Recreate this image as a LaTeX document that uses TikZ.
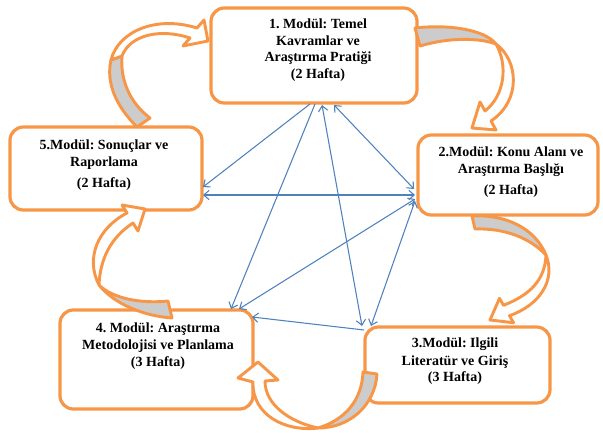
\documentclass[tikz,border=0pt]{standalone}
\usepackage{fontspec}
\setmainfont{Liberation Serif}
\frenchspacing
\usetikzlibrary{arrows.meta}
\definecolor{orng}{RGB}{247,150,70}
\definecolor{bluel}{RGB}{79,129,189}
\definecolor{grayf}{RGB}{204,204,204}
\begin{document}
\begin{tikzpicture}[x=0.75pt,y=-0.75pt,
  box/.style={draw=orng, line width=2.4pt, rounded corners=10pt, fill=white, inner sep=0pt, outer sep=0pt},
  lbl/.style={align=center, font=\bfseries\fontsize{10.5}{12.5}\selectfont, inner sep=0pt},
  link/.style={draw=bluel, line width=0.8pt},
  one/.style={-{Straight Barb[length=4pt,width=7pt]}},
  two/.style={{Straight Barb[length=4pt,width=7pt]}-{Straight Barb[length=4pt,width=7pt]}},
  band/.style={draw=orng, line width=2.2pt, line join=round, fill=white},
  under/.style={draw=orng, line width=2.2pt, line join=round, fill=grayf}]
\useasboundingbox (0,0) rectangle (603,432);

% boxes
\node[box, minimum width=154.5pt, minimum height=71.25pt] (b1) at (314,55.5) {};
\node[box, minimum width=135pt, minimum height=60pt] (b2) at (508,175) {};
\node[box, minimum width=138.75pt, minimum height=57pt] (b3) at (457.5,365) {};
\node[box, minimum width=144.75pt, minimum height=74.25pt] (b4) at (156.5,359.5) {};
\node[box, minimum width=144pt, minimum height=62.25pt] (b5) at (106,168.5) {};

% labels
\node[lbl] (t1) at (318,50) {1. Modül: Temel\\Kavramlar ve\\Araştırma Pratiği\\(2 Hafta)};
\node[lbl] (t2) at (511,172) {2.Modül: Konu Alanı ve\\Araştırma Başlığı\\[3pt](2 Hafta)};
\node[lbl] (t3) at (455,361) {3.Modül: Ilgili\\[1pt]Literatür ve Giriş\\(3 Hafta)};
\node[lbl] (t4) at (158,346) {4. Modül: Araştırma\\Metodolojisi ve Planlama\\(3 Hafta)};
\node[lbl] (t5) at (104,165) {5.Modül: Sonuçlar ve\\Raporlama\\[3pt](2 Hafta)};

% connector end points
\coordinate (s1a) at (310,104); \coordinate (s5a) at (203,187);
\coordinate (s2a) at (415,195); \coordinate (s5b) at (203,195);
\coordinate (s1b) at (315,104); \coordinate (s4a) at (231,309);
\coordinate (s1c) at (322,105); \coordinate (s3a) at (362,326);
\coordinate (s1d) at (334,105); \coordinate (s2b) at (414,189);
\coordinate (s2c) at (415,199); \coordinate (s4b) at (239,309);
\coordinate (s2d) at (415,201); \coordinate (s3b) at (371,326);
\coordinate (s3c) at (364,330); \coordinate (s4c) at (252,317);

\draw[link,one] (s1a) -- (s5a);
\draw[link,two] (s2a) -- (s5b);
\draw[link,one] (s1b) -- (s4a);
\draw[link,two] (s1c) -- (s3a);
\draw[link,two] (s1d) -- (s2b);
\draw[link,two] (s2c) -- (s4b);
\draw[link,two] (s2d) -- (s3b);
\draw[link,one] (s3c) -- (s4c);

% curved block arrows
% 5 -> 1
\path[under] (137,127) .. controls (115,105) and (106,82) .. (111,60) -- (122,56) .. controls (120,80) and (130,103) .. (150,118) -- cycle;
\path[band] (111,60) .. controls (118,32) and (155,15) .. (197,28) -- (204,20) -- (208,41) -- (183,46) -- (190,38) .. controls (160,28) and (130,35) .. (122,56) -- cycle;
% 1 -> 2
\path[under] (415,28) .. controls (450,24) and (485,30) .. (496,44) .. controls (480,38) and (450,37) .. (420,46) -- cycle;
\path[band] (496,44) .. controls (518,60) and (522,100) .. (491,121) -- (496,130) -- (472,128) -- (480,102) -- (485,111) .. controls (505,95) and (508,65) .. (496,44) -- cycle;
% 2 -> 3
\path[under] (472,216) .. controls (505,214) and (535,228) .. (546,255) .. controls (530,238) and (505,228) .. (475,229) -- cycle;
\path[band] (546,255) .. controls (556,280) and (540,305) .. (509.5,315.7) -- (513.5,322.7) -- (490,320) -- (499.5,298.3) -- (503.5,305.3) .. controls (530,295) and (545,280) .. (546,255) -- cycle;
% 3 -> 4
\path[under] (363,372) .. controls (362,400) and (345,420) .. (318,428) .. controls (350,428) and (375,405) .. (377,374) -- cycle;
\path[band] (318,428) .. controls (285,432) and (252,415) .. (253,382) -- (238,378) -- (258,362) -- (278,380) -- (265,381) .. controls (265,405) and (290,422) .. (318,428) -- cycle;
% 4 -> 5
\path[under] (168,301) .. controls (140,304) and (112,298) .. (99,285) .. controls (115,305) and (145,316) .. (172,318) -- cycle;
\path[band] (99,285) .. controls (85,258) and (98,228) .. (127,213) -- (122,205) -- (145,209) -- (138,231) -- (133,223) .. controls (110,238) and (100,260) .. (99,285) -- cycle;
\end{tikzpicture}
\end{document}
